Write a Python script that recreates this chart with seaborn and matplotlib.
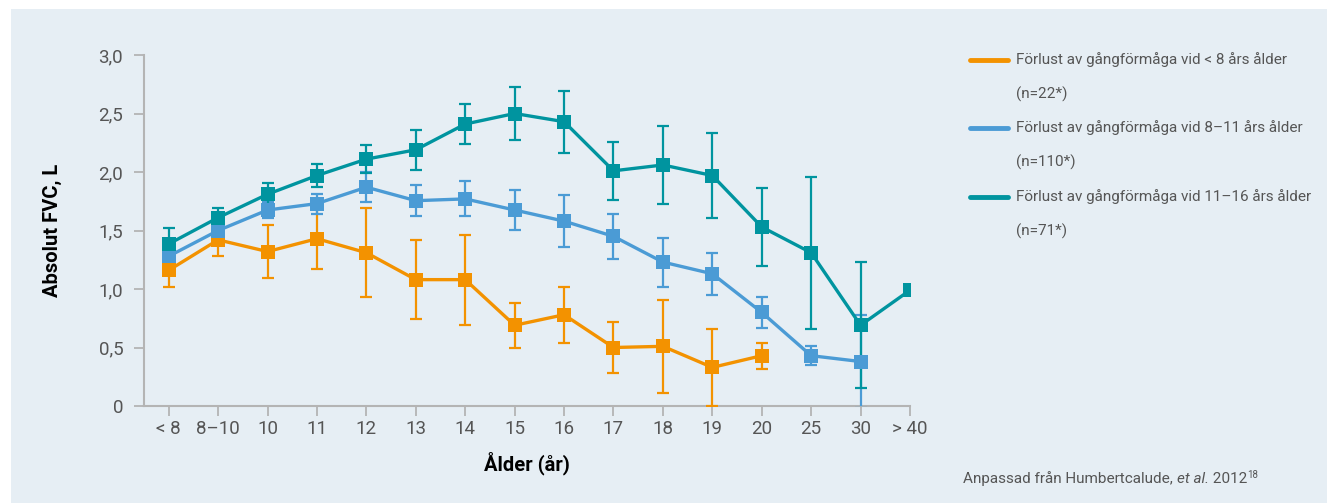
import pandas as pd
import numpy as np
import seaborn as sns
import matplotlib.pyplot as plt
from matplotlib.patches import Rectangle
from matplotlib.lines import Line2D

# Age categories on the x axis
ages = ['< 8', '8–10', '10', '11', '12', '13', '14', '15', '16', '17',
        '18', '19', '20', '25', '30', '> 40']

# Loss of ambulation before 8 years (n=22)
fvc_lt8 = [1.16, 1.42, 1.32, 1.43, 1.31, 1.08, 1.08, 0.69, 0.78, 0.50, 0.51, 0.33, 0.43]
sd_lt8 = [0.14, 0.14, 0.23, 0.26, 0.38, 0.34, 0.385, 0.19, 0.24, 0.215, 0.40, 0.33, 0.11]

# Loss of ambulation at 8-11 years (n=110)
fvc_8_11 = [1.28, 1.50, 1.675, 1.73, 1.87, 1.755, 1.77, 1.675, 1.58, 1.45, 1.23, 1.13, 0.80, 0.43, 0.38]
sd_8_11 = [0.07, 0.06, 0.065, 0.085, 0.13, 0.135, 0.15, 0.17, 0.22, 0.19, 0.21, 0.18, 0.13, 0.08, 0.40]

# Loss of ambulation at 11-16 years (n=71)
fvc_11_16 = [1.385, 1.61, 1.81, 1.97, 2.11, 2.19, 2.41, 2.50, 2.43, 2.01, 2.06, 1.97, 1.53, 1.31, 0.69, 0.99]
sd_11_16 = [0.14, 0.08, 0.10, 0.10, 0.12, 0.17, 0.17, 0.225, 0.265, 0.25, 0.33, 0.36, 0.33, 0.65, 0.54, 0.0]

labels = ['Förlust av gångförmåga vid < 8 års ålder\n(n=22*)',
          'Förlust av gångförmåga vid 8–11 års ålder\n(n=110*)',
          'Förlust av gångförmåga vid 11–16 års ålder\n(n=71*)']
colors = ['#F39200', '#4B9BD5', '#00949F']

rows = []
for lab, vals, sds in zip(labels, [fvc_lt8, fvc_8_11, fvc_11_16], [sd_lt8, sd_8_11, sd_11_16]):
    for i, (v, s) in enumerate(zip(vals, sds)):
        rows.append({'pos': i, 'fvc': v, 'sd': s, 'grupp': lab})
df = pd.DataFrame(rows)

sns.set_style('ticks')
plt.rcParams['font.family'] = ['Roboto', 'DejaVu Sans']

bg = '#E6EEF4'
grey = '#555555'
spine = '#B4B4B4'

W, H = 1327, 503
fig = plt.figure(figsize=(W / 100, H / 100), dpi=100)
fig.patch.set_facecolor('white')
fig.patches.append(Rectangle((11 / W, 0), 1, 1 - 9 / H, transform=fig.transFigure,
                             facecolor=bg, edgecolor='none', zorder=-10))

ax = fig.add_axes([144 / W, 1 - 406 / H, 766 / W, 351 / H])
ax.set_facecolor('none')

for lab, col in zip(labels, colors):
    d = df[df['grupp'] == lab]
    d = d[d['sd'] > 0]
    ax.errorbar(d['pos'], d['fvc'], yerr=d['sd'], fmt='none', ecolor=col,
                elinewidth=1.6, capsize=4.5, capthick=1.6, zorder=3)

sns.lineplot(data=df, x='pos', y='fvc', hue='grupp', palette=colors, marker='s',
             markersize=10, markeredgewidth=0, linewidth=2.4, ax=ax, legend=False,
             zorder=4)

ax.set_xlim(-0.5, 15)
ax.set_ylim(0, 3.0)
ax.set_xticks(range(len(ages)))
ax.set_xticklabels(ages)
ax.set_yticks([0, 0.5, 1.0, 1.5, 2.0, 2.5, 3.0])
ax.set_yticklabels(['0', '0,5', '1,0', '1,5', '2,0', '2,5', '3,0'])
ax.tick_params(axis='both', colors=spine, labelcolor=grey, labelsize=13.5,
               length=7, width=1.3)
ax.tick_params(axis='y', pad=8)
ax.tick_params(axis='x', pad=3)
for s in ['top', 'right']:
    ax.spines[s].set_visible(False)
for s in ['left', 'bottom']:
    ax.spines[s].set_color(spine)
    ax.spines[s].set_linewidth(1.5)

ax.set_xlabel('Ålder (år)', fontsize=14.5, fontweight='bold', color='black', labelpad=10)
ax.set_ylabel('Absolut FVC, L', fontsize=14.5, fontweight='bold', color='black', labelpad=26)

# Legend drawn by hand: colour bar, then two text lines per entry
entry_y = [60, 128, 197]
for lab, col, y in zip(labels, colors, entry_y):
    fig.add_artist(Line2D([970 / W, 1008 / W], [1 - y / H, 1 - y / H], color=col,
                          linewidth=3.5, solid_capstyle='round', transform=fig.transFigure))
    first, second = lab.split('\n')
    fig.text(1016 / W, 1 - y / H, first, fontsize=11, color=grey, va='center', ha='left')
    fig.text(1016 / W, 1 - (y + 34) / H, second, fontsize=11, color=grey,
             va='center', ha='left')

# Source line, pieced together so "et al." can be italic
renderer = fig.canvas.get_renderer()
x = 963
pieces = [('Anpassad från Humbertcalude, ', 'normal', 11, 0),
          ('et al.', 'italic', 11, 0),
          (' 2012', 'normal', 11, 0),
          ('18', 'normal', 7, 5)]
for txt, style, size, rise in pieces:
    t = fig.text(x / W, 1 - (483 - rise) / H, txt, fontsize=size, fontstyle=style,
                 color=grey, va='baseline', ha='left')
    x += t.get_window_extent(renderer).width

plt.savefig('out.png', dpi=100)
